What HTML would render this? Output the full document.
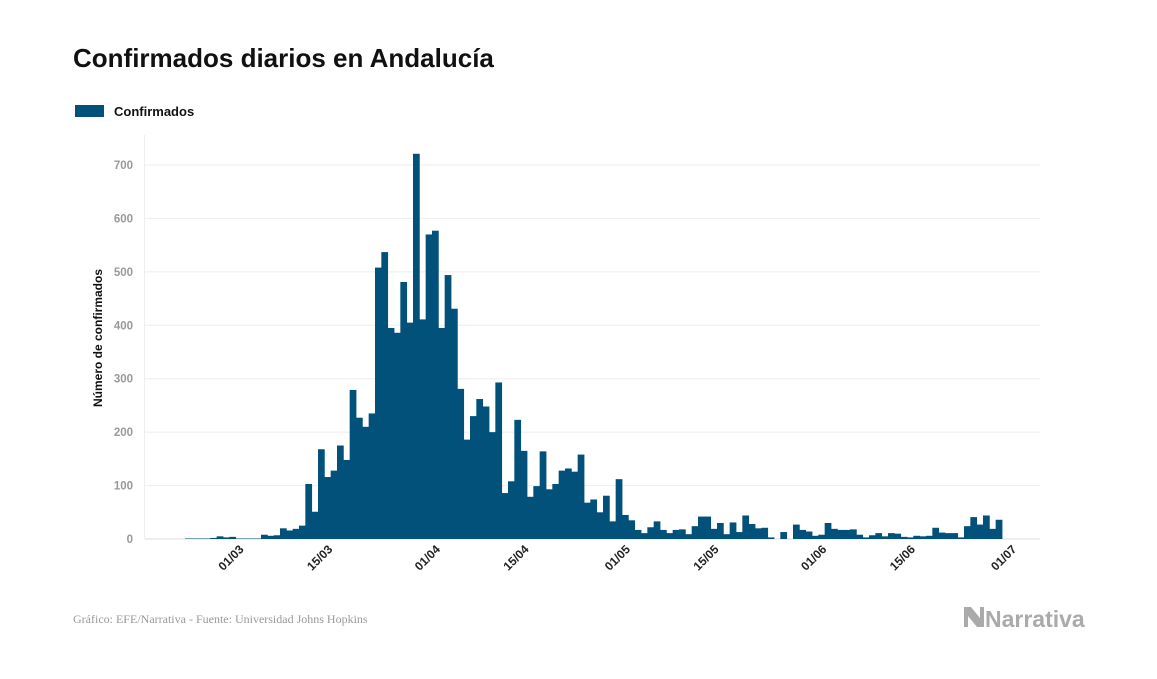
<!DOCTYPE html>
<html><head><meta charset="utf-8"><style>
body{margin:0;background:#fff;width:1157px;height:674px;overflow:hidden;font-family:"Liberation Sans",sans-serif}
</style></head><body>
<svg width="1157" height="674" xmlns="http://www.w3.org/2000/svg">
<text x="73" y="67" font-size="26" font-weight="bold" fill="#111">Confirmados diarios en Andalucía</text>
<rect x="75" y="105" width="29" height="12" fill="#02517a"/>
<text x="114" y="116" font-size="13" font-weight="bold" fill="#111">Confirmados</text>
<g id="grid"></g><g id="bars"></g><g id="xt"></g>
<text transform="translate(102,338) rotate(-90)" text-anchor="middle" font-size="12" font-weight="bold" fill="#111">Número de confirmados</text>
<text x="73" y="623" font-family="Liberation Serif,serif" font-size="12" fill="#999">Gráfico: EFE/Narrativa - Fuente: Universidad Johns Hopkins</text>
<g><path d="M964 607 L971 607 L980 618 L980 607 L984 607 L984 627 L977 627 L968 616 L968 627 L964 627 Z" fill="#aaa"/>
<text x="985" y="627" font-size="23" font-weight="bold" fill="#aaa">Narrativa</text></g>
</svg>
<script>
const yTicks=[0,100,200,300,400,500,600,700];
const values=[1,1,1,1,2,5,3,4,1,1,1,1,8,6,7,20,16,19,25,103,51,168,116,128,175,148,279,227,210,235,508,537,395,386,481,405,721,411,570,577,395,494,431,281,186,230,262,248,200,293,86,108,223,165,79,99,164,93,103,128,132,126,158,68,74,50,81,33,112,45,35,17,11,22,33,17,11,17,18,9,24,42,42,19,30,9,31,13,44,28,20,21,3,0,13,0,27,17,14,6,8,30,19,17,17,18,8,3,7,11,5,11,10,4,3,6,5,6,21,12,11,11,3,24,41,27,44,19,36];
const tickLabels=["01/03","15/03","01/04","15/04","01/05","15/05","01/06","15/06","01/07"];
const tickIndex=[7,21,38,52,68,82,99,113,129];
const NS="http://www.w3.org/2000/svg";
const x0=185,bw=(1002-185)/values.length,y0=539,ppu=(539-165)/700;
const X=i=>x0+i*bw, Y=v=>y0-v*ppu;
const g=document.getElementById('grid'),b=document.getElementById('bars'),xt=document.getElementById('xt');
function mk(t,a,p){const e=document.createElementNS(NS,t);for(const k in a)e.setAttribute(k,a[k]);p.appendChild(e);return e;}
yTicks.forEach(v=>{
 const l=mk('line',{x1:145,x2:1040,y1:Y(v),y2:Y(v),stroke:v===0?'#ddd':'#eee','stroke-width':1},g);
 
 
 const t=mk('text',{x:133,y:Y(v)+4,'text-anchor':'end','font-size':11.5,'font-weight':'bold',fill:'#999'},g);
 t.textContent=v;
 
 
});
const ax=mk('line',{x1:144.5,x2:144.5,y1:135,y2:539,stroke:'#eee'},g);


values.forEach((v,i)=>{
 if(v<=0)return;
 const r=mk('rect',{x:X(i),y:Y(v),width:bw+0.4,height:v*ppu,fill:'#02517a'},b);
 
 
});
tickLabels.forEach((s,k)=>{
 const cx=X(tickIndex[k])+bw/2+12;
 const t=mk('text',{transform:`translate(${cx},550) rotate(-45)`,'text-anchor':'end','font-size':12,'font-weight':'bold',fill:'#222'},xt);
 t.textContent=s;
 
 
});
</script>
</body></html>
